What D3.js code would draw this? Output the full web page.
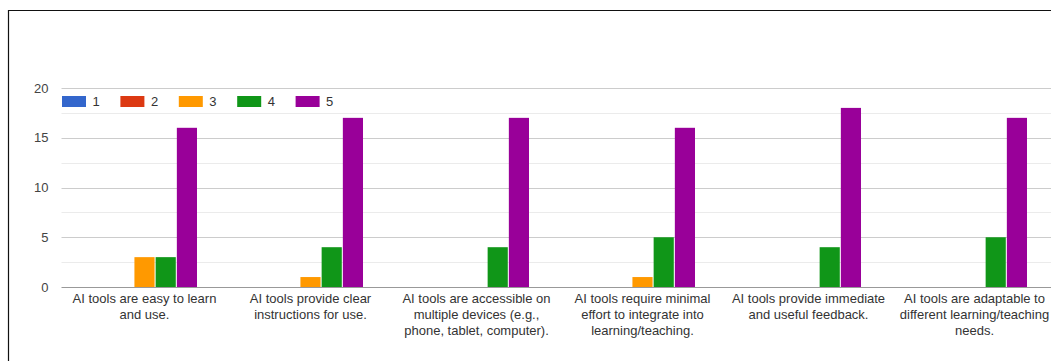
<!DOCTYPE html>
<html>
<head>
<meta charset="utf-8">
<script src="https://cdn.jsdelivr.net/npm/d3@7"></script>
<style>
  html, body { margin: 0; padding: 0; background: #fff; }
  svg { display: block; font-family: Arial, "Liberation Sans", sans-serif; }
</style>
</head>
<body>
<svg id="chart" width="1051" height="361"></svg>
<script>
// Category labels, one entry per line of the wrapped label
const categories = [
  ["AI tools are easy to learn", "and use."],
  ["AI tools provide clear", "instructions for use."],
  ["AI tools are accessible on", "multiple devices (e.g.,", "phone, tablet, computer)."],
  ["AI tools require minimal", "effort to integrate into", "learning/teaching."],
  ["AI tools provide immediate", "and useful feedback."],
  ["AI tools are adaptable to", "different learning/teaching", "needs."]
];
const seriesNames = ["1", "2", "3", "4", "5"];
const seriesColors = ["#3366cc", "#dc3912", "#ff9900", "#109618", "#990099"];

// Response counts per rating, one value per category
const rating1 = [0, 0, 0, 0, 0, 0];
const rating2 = [0, 0, 0, 0, 0, 0];
const rating3 = [3, 1, 0, 1, 0, 0];
const rating4 = [3, 4, 4, 5, 4, 5];
const rating5 = [16, 17, 17, 16, 18, 17];

const yTicks = [0, 5, 10, 15, 20];
const yMinorTicks = [2.5, 7.5, 12.5, 17.5];

const seriesValues = [rating1, rating2, rating3, rating4, rating5];
const catKeys = categories.map((c, i) => i);

const svg = d3.select("#chart");

// Frame lines (open on the right and bottom)
svg.append("path")
  .attr("d", "M8.5,361 L8.5,10.5 L1051,10.5")
  .attr("fill", "none")
  .attr("stroke", "#111")
  .attr("stroke-width", 1.2);

const plot = { left: 61.5, right: 1057.5, top: 88, bottom: 287 };

const x0 = d3.scaleBand()
  .domain(catKeys)
  .range([plot.left, plot.right])
  .padding(0);

const groupWidth = 105;
const x1 = d3.scaleBand()
  .domain(seriesNames)
  .range([(x0.bandwidth() - groupWidth) / 2, (x0.bandwidth() + groupWidth) / 2])
  .paddingInner(0.05);

const y = d3.scaleLinear().domain([0, 20]).range([plot.bottom, plot.top]);

// Minor gridlines
svg.append("g").selectAll("line")
  .data(yMinorTicks)
  .join("line")
  .attr("x1", plot.left).attr("x2", 1051)
  .attr("y1", d => Math.round(y(d)) + 0.5).attr("y2", d => Math.round(y(d)) + 0.5)
  .attr("stroke", "#ebebeb");

// Major gridlines
svg.append("g").selectAll("line")
  .data(yTicks.filter(d => d !== 0))
  .join("line")
  .attr("x1", plot.left).attr("x2", 1051)
  .attr("y1", d => Math.round(y(d)) + 0.5).attr("y2", d => Math.round(y(d)) + 0.5)
  .attr("stroke", "#cccccc");

// Y axis labels
const yAxis = d3.axisLeft(y).tickValues(yTicks).tickSize(0).tickPadding(13);
const gy = svg.append("g")
  .attr("transform", `translate(${plot.left},0)`)
  .call(yAxis);
gy.select(".domain").remove();
gy.selectAll("text")
  .attr("font-size", 13)
  .attr("font-family", "Arial, 'Liberation Sans', sans-serif")
  .attr("fill", "#444");

// Bars
const groups = svg.append("g").selectAll("g")
  .data(catKeys)
  .join("g")
  .attr("transform", d => `translate(${x0(d)},0)`);

groups.selectAll("rect")
  .data(ci => seriesNames.map((s, si) => ({ s, si, v: seriesValues[si][ci] })))
  .join("rect")
  .attr("x", d => x1(d.s))
  .attr("width", x1.bandwidth())
  .attr("y", d => y(d.v))
  .attr("height", d => y(0) - y(d.v))
  .attr("fill", d => seriesColors[d.si]);

// Baseline
svg.append("line")
  .attr("x1", plot.left).attr("x2", 1051)
  .attr("y1", Math.round(y(0)) + 0.5).attr("y2", Math.round(y(0)) + 0.5)
  .attr("stroke", "#999");

// Category labels
const labels = svg.append("g").selectAll("text")
  .data(categories)
  .join("text")
  .attr("x", (d, i) => x0(i) + x0.bandwidth() / 2)
  .attr("y", 303)
  .attr("text-anchor", "middle")
  .attr("font-size", 13)
  .attr("fill", "#333");
labels.selectAll("tspan")
  .data(d => d)
  .join("tspan")
  .attr("x", function () { return d3.select(this.parentNode).attr("x"); })
  .attr("dy", (d, i) => i === 0 ? 0 : 16)
  .text(d => d);

// Legend
const legend = svg.append("g").selectAll("g")
  .data(seriesNames)
  .join("g")
  .attr("transform", (d, i) => `translate(${62 + i * 58.4},96)`);
legend.append("rect")
  .attr("width", 24).attr("height", 11)
  .attr("fill", (d, i) => seriesColors[i]);
legend.append("text")
  .attr("x", 30.5).attr("y", 10)
  .attr("font-size", 13)
  .attr("fill", "#333")
  .text(d => d);
</script>
</body>
</html>
